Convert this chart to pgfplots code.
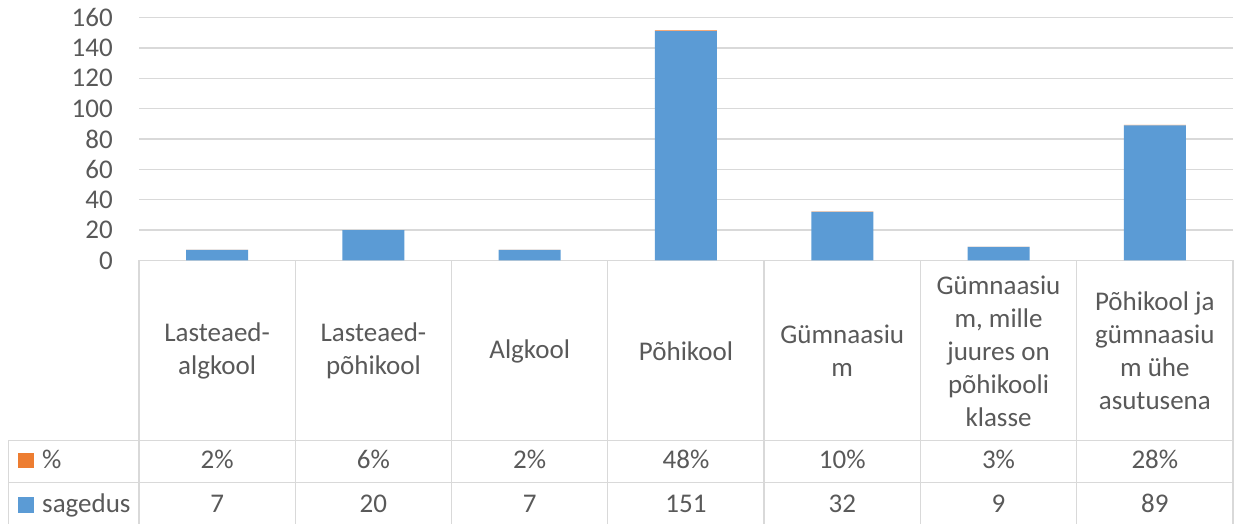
\documentclass[border=0pt]{standalone}
\usepackage{fontspec}
\setmainfont{Carlito}
\usepackage{pgfplots}
\pgfplotsset{compat=1.18}
\definecolor{bl}{HTML}{5B9BD5}
\definecolor{orc}{HTML}{ED7D31}
\definecolor{gr}{HTML}{D9D9D9}
\definecolor{tx}{HTML}{595959}
\newcommand{\bigf}{\fontsize{27}{33}\selectfont}
\begin{document}
\begin{tikzpicture}
\useasboundingbox (0,0) rectangle (1234pt,524pt);
\begin{axis}[
  at={(139pt,263.5pt)}, anchor=south west,
  scale only axis, width=1094pt, height=243pt,
  xmin=-0.5, xmax=6.5, ymin=0, ymax=160,
  ybar stacked, bar width=62pt,
  axis line style={draw=none},
  tick style={draw=none}, major tick length=0pt,
  ytick={0,20,...,160},
  ymajorgrids, grid style={gr, line width=1.3pt},
  xtick={0,...,6},
  xticklabels={{Lasteaed-\\algkool},{Lasteaed-\\põhikool},{Algkool},{Põhikool},{Gümnaasiu\\m},{Gümnaasiu\\m, mille\\juures on\\põhikooli\\klasse},{Põhikool ja\\gümnaasiu\\m ühe\\asutusena}},
  xticklabel style={anchor=center, yshift=-90.5pt, align=center, text=tx, font=\bigf},
  yticklabel style={anchor=east, inner sep=0pt, xshift=-26pt, text=tx, font=\bigf},
  /pgf/number format/assume math mode=true,
  clip=false,
]
\addplot[fill=bl, draw=none] coordinates {(0,7) (1,20) (2,7) (3,151) (4,32) (5,9) (6,89)};
\addplot[fill=orc, draw=none] coordinates {(0,0.02) (1,0.06) (2,0.02) (3,0.48) (4,0.10) (5,0.03) (6,0.28)};
% table lines
\draw[gr, line width=1.3pt] (axis cs:-0.5,0) -- (axis cs:6.5,0);
\pgfplotsinvokeforeach{-0.5,0.5,1.5,2.5,3.5,4.5,5.5,6.5}{
  \draw[gr, line width=1.3pt] (axis cs:#1,0) -- (axis cs:#1,-176);
}
\draw[gr, line width=1.3pt] (axis cs:-1.336,-118.65) -- (axis cs:-1.336,-176);
\draw[gr, line width=1.3pt] (axis cs:-1.336,-118.65) -- (axis cs:6.5,-118.65);
\draw[gr, line width=1.3pt] (axis cs:-1.336,-146.3) -- (axis cs:6.5,-146.3);
% legend keys
\fill[orc] (axis cs:-1.272,-136.8) rectangle (axis cs:-1.172,-126.5);
\fill[bl] (axis cs:-1.272,-166.1) rectangle (axis cs:-1.172,-155.8);
\node[anchor=base west, inner sep=0pt, text=tx, font=\bigf] at (axis cs:-1.1206,-136.8) {\%};
\node[anchor=base west, inner sep=0pt, text=tx, font=\bigf] at (axis cs:-1.1206,-166.1) {sagedus};
% value rows
\node[anchor=base, text=tx, font=\bigf] at (axis cs:0,-136.8) {2\%};
\node[anchor=base, text=tx, font=\bigf] at (axis cs:1,-136.8) {6\%};
\node[anchor=base, text=tx, font=\bigf] at (axis cs:2,-136.8) {2\%};
\node[anchor=base, text=tx, font=\bigf] at (axis cs:3,-136.8) {48\%};
\node[anchor=base, text=tx, font=\bigf] at (axis cs:4,-136.8) {10\%};
\node[anchor=base, text=tx, font=\bigf] at (axis cs:5,-136.8) {3\%};
\node[anchor=base, text=tx, font=\bigf] at (axis cs:6,-136.8) {28\%};
\node[anchor=base, text=tx, font=\bigf] at (axis cs:0,-166.1) {7};
\node[anchor=base, text=tx, font=\bigf] at (axis cs:1,-166.1) {20};
\node[anchor=base, text=tx, font=\bigf] at (axis cs:2,-166.1) {7};
\node[anchor=base, text=tx, font=\bigf] at (axis cs:3,-166.1) {151};
\node[anchor=base, text=tx, font=\bigf] at (axis cs:4,-166.1) {32};
\node[anchor=base, text=tx, font=\bigf] at (axis cs:5,-166.1) {9};
\node[anchor=base, text=tx, font=\bigf] at (axis cs:6,-166.1) {89};
\end{axis}
\end{tikzpicture}
\end{document}
